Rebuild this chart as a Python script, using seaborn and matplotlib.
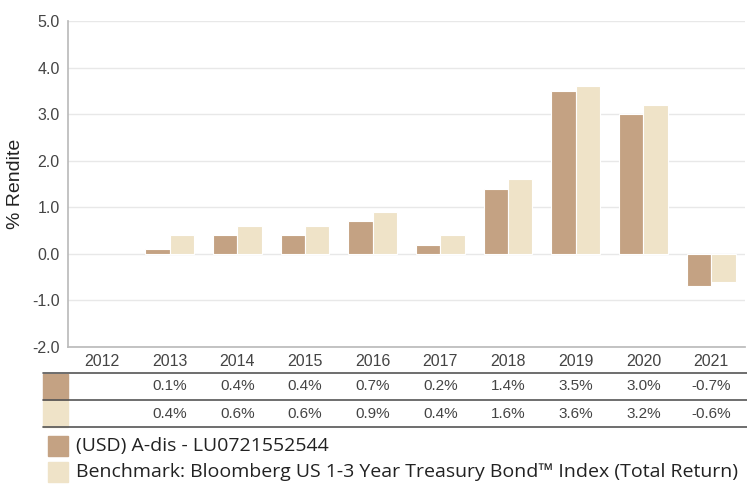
import numpy as np
import pandas as pd
import seaborn as sns
from matplotlib import pyplot as plt
from matplotlib import font_manager
from matplotlib.patches import Rectangle
from matplotlib.transforms import blended_transform_factory

years = ["2012", "2013", "2014", "2015", "2016", "2017", "2018", "2019", "2020", "2021"]
fund = [np.nan, 0.1, 0.4, 0.4, 0.7, 0.2, 1.4, 3.5, 3.0, -0.7]
bench = [np.nan, 0.4, 0.6, 0.6, 0.9, 0.4, 1.6, 3.6, 3.2, -0.6]
fund_name = "(USD) A-dis - LU0721552544"
bench_name = "Benchmark: Bloomberg US 1-3 Year Treasury Bond™ Index (Total Return)"
yticks = [-2.0, -1.0, 0.0, 1.0, 2.0, 3.0, 4.0, 5.0]

FUND_COLOR = "#c4a283"
BENCH_COLOR = "#efe3c8"
TEXT = "#444444"

sns.set_theme(style="white")
names = {f.name for f in font_manager.fontManager.ttflist}
narrow = "Liberation Sans Narrow" if "Liberation Sans Narrow" in names else "Liberation Sans"
plt.rcParams["font.family"] = ["Liberation Sans", "DejaVu Sans"]

df = pd.DataFrame({
    "year": years * 2,
    "value": fund + bench,
    "series": [fund_name] * len(years) + [bench_name] * len(years),
})

fig = plt.figure(figsize=(7.47, 4.84), dpi=100)
ax = fig.add_axes([68 / 747, 1 - 347 / 484, (745 - 68) / 747, (347 - 21) / 484])

sns.barplot(data=df, x="year", y="value", hue="series", order=years,
            hue_order=[fund_name, bench_name], palette=[FUND_COLOR, BENCH_COLOR],
            saturation=1, width=0.72, edgecolor="white", linewidth=0.8,
            legend=False, ax=ax)

ax.set_ylim(-2, 5)
ax.set_xlim(-0.5, len(years) - 0.5)
ax.set_yticks(yticks)
ax.set_yticklabels([f"{t:.1f}" for t in yticks], fontsize=11.5, color=TEXT)
ax.tick_params(axis="y", length=0, pad=6)
ax.set_xticks([])
ax.set_xlabel("")
ax.set_ylabel("% Rendite", fontsize=14, color="#222222", labelpad=6)
ax.yaxis.grid(True, color="#e8e8e8", linewidth=1)
ax.set_axisbelow(True)
for s in ["top", "right"]:
    ax.spines[s].set_visible(False)
ax.spines["left"].set_color("#bbbbbb")
ax.spines["bottom"].set_color("#bbbbbb")

# data table under the chart
tr = blended_transform_factory(ax.transData, fig.transFigure)
ftr = fig.transFigure
def fy(py):
    return 1 - py / 484

for i, y in enumerate(years):
    ax.text(i, fy(362), y, transform=tr, ha="center", va="center",
            fontsize=11.5, color=TEXT)

rows = [(fund, FUND_COLOR, 386.5), (bench, BENCH_COLOR, 413.5)]
for vals, col, py in rows:
    fig.patches.append(Rectangle((43 / 747, fy(py + 13)), 25 / 747, 26 / 484,
                                 transform=ftr, color=col, zorder=1))
    for i, v in enumerate(vals):
        if not np.isnan(v):
            ax.text(i, fy(py), f"{v:.1f}%", transform=tr, ha="center", va="center",
                    fontsize=11, color=TEXT, family=[narrow, "DejaVu Sans"])
for py in [373, 400, 427]:
    fig.lines.append(plt.Line2D([43 / 747, 1], [fy(py), fy(py)], transform=ftr,
                                color="#555555", linewidth=1.2))

# legend
for py, col, name in [(446, FUND_COLOR, fund_name), (472, BENCH_COLOR, bench_name)]:
    fig.patches.append(Rectangle((48 / 747, fy(py + 10)), 20 / 747, 20 / 484,
                                 transform=ftr, color=col))
    fig.text(76 / 747, fy(py), name, ha="left", va="center", fontsize=14,
             color="#222222", family=["Open Sans", "DejaVu Sans"])

fig.savefig("out.png", dpi=100)
